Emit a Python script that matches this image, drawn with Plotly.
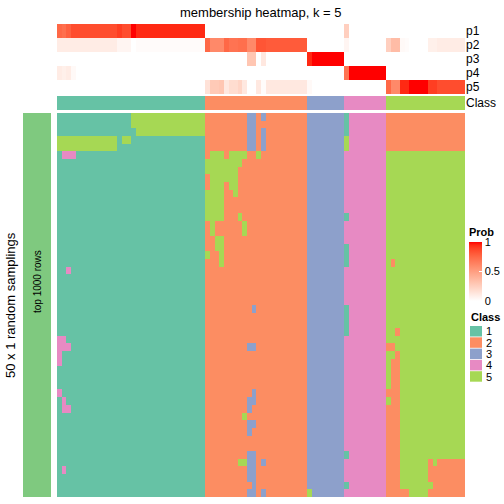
import plotly.graph_objects as go
import numpy as np

# ---------------- data ----------------
n_cols = 88
n_rows = 50
col_class = [1]*32 + [2]*22 + [3]*8 + [4]*9 + [5]*17

p1 = [0.75, 0.72, 0.78] + [0.85]*10 + [0.9] + [0.85]*2 + [1.0] + [0.95]*15 + [0]*30 + [0.25] + [0]*25
p2 = ([0.1]*13 + [0.05]*3 + [0] + [0.02]*15
      + [0.75, 0.6, 0.6, 0.6, 0.75, 0.7, 0.7, 0.72, 0.72, 0.6, 0.6, 0.82, 0.82] + [0.8]*9
      + [0]*8 + [0.05] + [0]*8
      + [0.25, 0.35, 0.35, 0.03, 0.02, 0, 0, 0, 0, 0.08, 0.08] + [0.1]*6)
p3 = [0]*41 + [0.3, 0.3, 0, 0.12] + [0]*9 + [0.95] + [1.0]*7 + [0]*9 + [0]*17
p4 = [0.1, 0.08, 0.1, 0.03] + [0]*28 + [0]*22 + [0]*8 + [0.7] + [1.0]*8 + [0]*17
p5 = ([0]*32
      + [0.15, 0.28, 0.28, 0.3, 0.12, 0.18, 0.18, 0.22, 0.12, 0, 0, 0.12, 0.02] + [0.12]*9
      + [0.03] + [0]*7 + [0]*9
      + [0.75, 0.6, 0.6, 0.95, 0.95, 1, 1, 1, 1, 0.9, 0.9] + [0.85]*6)
prob_rows = ["p1", "p2", "p3", "p4", "p5"]

# deviations of sampled class from consensus: (row_from, row_to, col_from, col_to, class)
deviations = [
    (0, 1, 16, 31, 5), (2, 2, 17, 31, 5), (3, 4, 0, 12, 5), (3, 3, 14, 15, 5),
    (5, 5, 1, 3, 4), (20, 20, 2, 2, 4), (29, 29, 0, 1, 4), (30, 30, 0, 2, 4),
    (31, 32, 0, 0, 4), (36, 36, 0, 0, 4), (37, 37, 1, 1, 4), (38, 38, 1, 2, 4),
    (46, 46, 1, 1, 4),
    (0, 4, 41, 42, 3), (0, 0, 44, 44, 3), (2, 4, 44, 44, 3),
    (5, 5, 33, 35, 5), (5, 5, 37, 40, 5), (5, 5, 43, 43, 5),
    (6, 6, 32, 39, 5), (7, 7, 32, 38, 5), (8, 8, 33, 38, 5),
    (9, 9, 33, 35, 5), (9, 9, 37, 38, 5), (10, 10, 32, 35, 5), (10, 10, 38, 38, 5),
    (11, 12, 32, 35, 5), (13, 13, 32, 35, 5), (13, 13, 39, 39, 5),
    (14, 15, 33, 33, 5), (14, 15, 40, 40, 5), (16, 17, 34, 35, 5),
    (18, 18, 32, 32, 5), (18, 18, 35, 35, 5), (19, 19, 35, 35, 5),
    (25, 25, 42, 42, 3), (30, 30, 41, 42, 3), (36, 36, 42, 42, 3), (37, 37, 41, 42, 3),
    (38, 38, 41, 41, 3), (39, 39, 40, 40, 5), (40, 40, 41, 42, 3), (41, 41, 41, 41, 3),
    (44, 47, 41, 42, 3), (45, 45, 39, 40, 5), (45, 45, 44, 44, 3),
    (48, 48, 42, 42, 3), (49, 49, 41, 42, 3), (49, 49, 44, 44, 3),
    (49, 49, 54, 54, 5),
    (0, 2, 62, 62, 1), (3, 4, 62, 62, 5), (13, 13, 62, 62, 1), (17, 19, 62, 62, 1),
    (25, 28, 62, 62, 1), (44, 44, 62, 62, 1), (48, 48, 62, 62, 1),
    (0, 4, 71, 87, 2), (19, 19, 72, 72, 2), (28, 28, 73, 73, 2), (30, 30, 71, 72, 2),
    (31, 31, 73, 73, 2), (32, 35, 72, 73, 2), (36, 36, 71, 73, 2), (37, 37, 72, 73, 2),
    (38, 49, 71, 73, 2), (49, 49, 74, 75, 2), (45, 45, 80, 80, 2), (45, 45, 82, 87, 2),
    (46, 47, 80, 87, 2), (48, 48, 81, 87, 2), (49, 49, 80, 87, 2),
]

classes = [1, 2, 3, 4, 5]
class_colors = ["#66C2A5", "#FC8D62", "#8DA0CB", "#E78AC3", "#A6D854"]

# ---------------- build matrices ----------------
body = np.tile(np.array(col_class), (n_rows, 1))
for r0, r1, c0, c1, k in deviations:
    body[r0:r1 + 1, c0:c1 + 1] = k

# LAB interpolation white -> red
def srgb_to_lin(c):
    c = c / 255.0
    return np.where(c <= 0.04045, c / 12.92, ((c + 0.055) / 1.055) ** 2.4)

def lin_to_srgb(c):
    c = np.clip(c, 0, 1)
    return np.where(c <= 0.0031308, 12.92 * c, 1.055 * c ** (1 / 2.4) - 0.055) * 255

M = np.array([[0.4124, 0.3576, 0.1805], [0.2126, 0.7152, 0.0722], [0.0193, 0.1192, 0.9505]])
Mi = np.linalg.inv(M)
wp = np.array([0.95047, 1.0, 1.08883])

def rgb2lab(rgb):
    xyz = M @ srgb_to_lin(np.array(rgb, float)) / wp
    f = np.where(xyz > 0.008856, np.cbrt(xyz), 7.787 * xyz + 16 / 116)
    return np.array([116 * f[1] - 16, 500 * (f[0] - f[1]), 200 * (f[1] - f[2])])

def lab2rgb(lab):
    fy = (lab[0] + 16) / 116
    fx = fy + lab[1] / 500
    fz = fy - lab[2] / 200
    f = np.array([fx, fy, fz])
    xyz = np.where(f ** 3 > 0.008856, f ** 3, (f - 16 / 116) / 7.787) * wp
    return lin_to_srgb(Mi @ xyz)

lw, lr = rgb2lab([255, 255, 255]), rgb2lab([255, 0, 0])
prob_scale = []
for t in np.linspace(0, 1, 21):
    c = lab2rgb(lw + (lr - lw) * t)
    prob_scale.append([float(t), "rgb(%d,%d,%d)" % tuple(int(round(v)) for v in c)])

disc_scale = []
for i, col in enumerate(class_colors):
    disc_scale.append([i / 5, col])
    disc_scale.append([(i + 1) / 5, col])

W = H = 504.0
def xd(a, b):
    return [a / W, b / W]
def yd(top, bottom):
    return [1 - bottom / H, 1 - top / H]

FONT = "Liberation Sans"
fig = go.Figure()

# body heatmap
fig.add_trace(go.Heatmap(z=body, x=list(range(n_cols)), y=list(range(n_rows)),
                         colorscale=disc_scale, zmin=0.5, zmax=5.5, showscale=False,
                         hoverinfo="skip", xaxis="x", yaxis="y"))
# left annotation bar
fig.add_trace(go.Heatmap(z=[[1]] * n_rows, x=[0], y=list(range(n_rows)),
                         colorscale=[[0, "#7FC97F"], [1, "#7FC97F"]], showscale=False,
                         hoverinfo="skip", xaxis="x2", yaxis="y"))
# probability annotation
fig.add_trace(go.Heatmap(z=[p1, p2, p3, p4, p5], x=list(range(n_cols)), y=prob_rows,
                         colorscale=prob_scale, zmin=0, zmax=1, hoverinfo="skip",
                         xaxis="x", yaxis="y3",
                         colorbar=dict(x=469 / W, xanchor="left", y=1 - 225 / H, yanchor="top",
                                       len=76, lenmode="pixels", thickness=13,
                                       thicknessmode="pixels", xpad=0, ypad=0,
                                       outlinewidth=0, tickvals=[0, 0.5, 1],
                                       ticktext=["0", "0.5", "1"], ticks="inside",
                                       tickcolor="white", ticklen=3,
                                       tickfont=dict(family=FONT, size=11, color="black"),
                                       title=dict(text="<b>Prob</b>", side="top",
                                                  font=dict(family=FONT, size=11, color="black")))))
# class annotation
fig.add_trace(go.Heatmap(z=[col_class], x=list(range(n_cols)), y=["Class"],
                         colorscale=disc_scale, zmin=0.5, zmax=5.5, showscale=False,
                         hoverinfo="skip", xaxis="x", yaxis="y4"))

hidden = dict(showgrid=False, zeroline=False, showticklabels=False, ticks="", showline=False)
fig.update_layout(
    width=504, height=504, margin=dict(l=0, r=0, t=0, b=0, autoexpand=False),
    paper_bgcolor="white", plot_bgcolor="white", showlegend=False,
    font=dict(family=FONT, size=12, color="black"),
    xaxis=dict(domain=xd(57, 465), range=[-0.5, n_cols - 0.5], automargin=False, **hidden),
    xaxis2=dict(domain=xd(23, 51), range=[-0.5, 0.5], anchor="y", automargin=False, **hidden),
    yaxis=dict(domain=yd(113, 497), range=[n_rows - 0.5, -0.5], anchor="x", automargin=False,
               **hidden),
    yaxis3=dict(domain=yd(24, 94), anchor="x", side="right", type="category",
                tickmode="array", tickvals=prob_rows, ticktext=prob_rows,
                range=[4.5, -0.5], automargin=False, showgrid=False, zeroline=False, ticks="",
                tickfont=dict(family=FONT, size=12)),
    yaxis4=dict(domain=yd(96, 110), anchor="x", side="right", type="category",
                tickmode="array", tickvals=["Class"], ticktext=["Class"], automargin=False,
                showgrid=False, zeroline=False, ticks="",
                tickfont=dict(family=FONT, size=12)),
)

# titles
fig.add_annotation(text="membership heatmap, k = 5", x=261 / W, y=1 - 12 / H, xref="paper",
                   yref="paper", showarrow=False, font=dict(family=FONT, size=13),
                   xanchor="center", yanchor="middle")
fig.add_annotation(text="50 x 1 random samplings", x=10 / W, y=1 - 305 / H, xref="paper",
                   yref="paper", showarrow=False, textangle=-90, font=dict(family=FONT, size=13),
                   xanchor="center", yanchor="middle")
fig.add_annotation(text="top 1000 rows", x=37 / W, y=1 - 282 / H, xref="paper",
                   yref="paper", showarrow=False, textangle=-90, font=dict(family=FONT, size=10),
                   xanchor="center", yanchor="middle")

# class legend
fig.add_annotation(text="<b>Class</b>", x=469 / W, y=1 - 317 / H, xref="paper", yref="paper",
                   showarrow=False, xanchor="left", yanchor="middle",
                   font=dict(family=FONT, size=11))
for i, (k, col) in enumerate(zip(classes, class_colors)):
    top = 326 + 11.3 * i
    fig.add_shape(type="rect", xref="paper", yref="paper", x0=470 / W, x1=482 / W,
                  y0=1 - (top + 10.5) / H, y1=1 - top / H, fillcolor=col, line=dict(width=0))
    fig.add_annotation(text=str(k), x=484 / W, y=1 - (top + 5.3) / H, xref="paper",
                       yref="paper", showarrow=False, xanchor="left", yanchor="middle",
                       font=dict(family=FONT, size=11))

fig.write_html("out.html", config={"displayModeBar": False},
               post_script=["document.body.style.margin='0px';"
                            "document.body.style.overflow='hidden';"])
